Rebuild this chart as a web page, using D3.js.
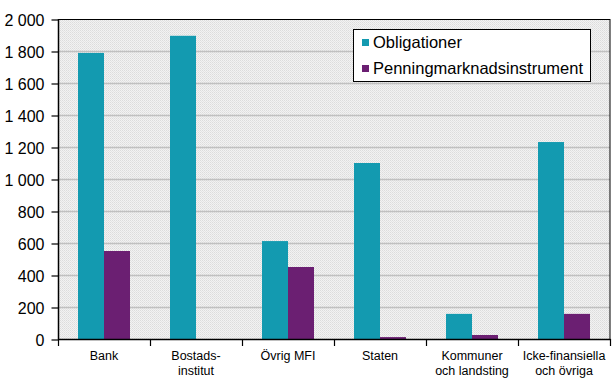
<!DOCTYPE html>
<html><head><meta charset="utf-8">
<script src="https://cdn.jsdelivr.net/npm/d3@7"></script>
<style>body{margin:0;background:#fff}svg{display:block}</style>
</head><body>
<svg id="c" width="614" height="390"></svg>
<script>
const categories = [["Bank"],["Bostads-","institut"],["Övrig MFI"],["Staten"],["Kommuner","och landsting"],["Icke-finansiella","och övriga"]];
const obligationer = [1788, 1895, 612, 1100, 157, 1231];
const penning = [550, 0, 450, 12, 25, 157];
const seriesNames = ["Obligationer","Penningmarknadsinstrument"];
const colors = ["#139AB0","#6B1F72"];
const yTicks = [0,200,400,600,800,1000,1200,1400,1600,1800,2000];

const svg = d3.select("#c");
const m = {l:58, t:19, r:610, b:339};
const x = d3.scaleBand().domain(d3.range(categories.length)).range([m.l, m.r]);
const y = d3.scaleLinear().domain([0,2000]).range([m.b, m.t]);
const font = "Liberation Sans, Arial, sans-serif";

const defs = svg.append("defs");
const pat = defs.append("pattern").attr("id","dots").attr("width",2).attr("height",2).attr("patternUnits","userSpaceOnUse");
pat.append("rect").attr("width",2).attr("height",2).attr("fill","#f2f2f2");
pat.append("rect").attr("width",1).attr("height",1).attr("fill","#dcdcdc");
pat.append("rect").attr("x",1).attr("y",1).attr("width",1).attr("height",1).attr("fill","#e4e4e4");

svg.append("rect").attr("x",m.l).attr("y",m.t).attr("width",m.r-m.l).attr("height",m.b-m.t).attr("fill","url(#dots)");

// gridlines
svg.append("g").selectAll("line").data(yTicks.filter(d=>d>0 && d<2000)).join("line")
  .attr("x1",m.l).attr("x2",m.r).attr("y1",d=>y(d)+0.5).attr("y2",d=>y(d)+0.5)
  .attr("stroke","#c0c0c0").attr("stroke-width",1.5);

// bars
const bw = 26;
const data = categories.map((c,i)=>({i, v:[obligationer[i], penning[i]]}));
const g = svg.append("g");
data.forEach(d=>{
  const cx = x(d.i) + x.bandwidth()/2;
  d.v.forEach((v,k)=>{
    if (v<=0) return;
    g.append("rect").attr("x", cx - bw + k*bw).attr("width",bw)
      .attr("y", y(v)).attr("height", y(0)-y(v)).attr("fill", colors[k]);
  });
});

// frame
svg.append("rect").attr("x",m.l+0.5).attr("y",m.t+0.5).attr("width",m.r-m.l-0.5).attr("height",m.b-m.t)
  .attr("fill","none").attr("stroke","#000").attr("stroke-width",1);
svg.append("line").attr("x1",m.l).attr("x2",m.r+0.5).attr("y1",m.b+0.5).attr("y2",m.b+0.5).attr("stroke","#000").attr("stroke-width",1.5);
svg.append("line").attr("x1",m.l+0.5).attr("x2",m.l+0.5).attr("y1",m.t).attr("y2",m.b+0.5).attr("stroke","#000").attr("stroke-width",1.5);

// y axis
const fmt = d => d3.format(",")(d).replace(/,/g," ");
const ya = svg.append("g").attr("transform",`translate(${m.l+0.5},0.5)`)
  .call(d3.axisLeft(y).tickValues(yTicks).tickSize(7).tickPadding(7).tickFormat(fmt));
ya.select(".domain").remove();
ya.selectAll("line").attr("stroke","#000").attr("stroke-width",1.2);
ya.selectAll("text").attr("font-family",font).attr("font-size","16px").attr("fill","#000").attr("dy","0.35em");

// x axis ticks at band boundaries
const bounds = d3.range(categories.length+1).map(i=> i<categories.length ? x(i) : m.r);
svg.append("g").selectAll("line").data(bounds).join("line")
  .attr("x1",d=>d+0.5).attr("x2",d=>d+0.5).attr("y1",m.b).attr("y2",m.b+7)
  .attr("stroke","#000").attr("stroke-width",1.2);

const xl = svg.append("g").selectAll("text").data(categories).join("text")
  .attr("x",(d,i)=>x(i)+x.bandwidth()/2).attr("y",360)
  .attr("text-anchor","middle").attr("font-family",font).attr("font-size","12.5px").attr("fill","#000");
xl.each(function(d){
  const t = d3.select(this);
  d.forEach((s,j)=> t.append("tspan").attr("x",t.attr("x")).attr("dy", j===0?0:15).text(s));
});

// legend
const lg = svg.append("g");
lg.append("rect").attr("x",353.5).attr("y",29.5).attr("width",237).attr("height",52).attr("fill","#fff").attr("stroke","#000").attr("stroke-width",1);
seriesNames.forEach((n,k)=>{
  lg.append("rect").attr("x",362).attr("y",39+k*26).attr("width",7).attr("height",7).attr("fill",colors[k]);
  lg.append("text").attr("x",373).attr("y",48+k*26).attr("font-family",font).attr("font-size","16.5px").attr("fill","#000").text(n);
});
</script>
</body></html>
